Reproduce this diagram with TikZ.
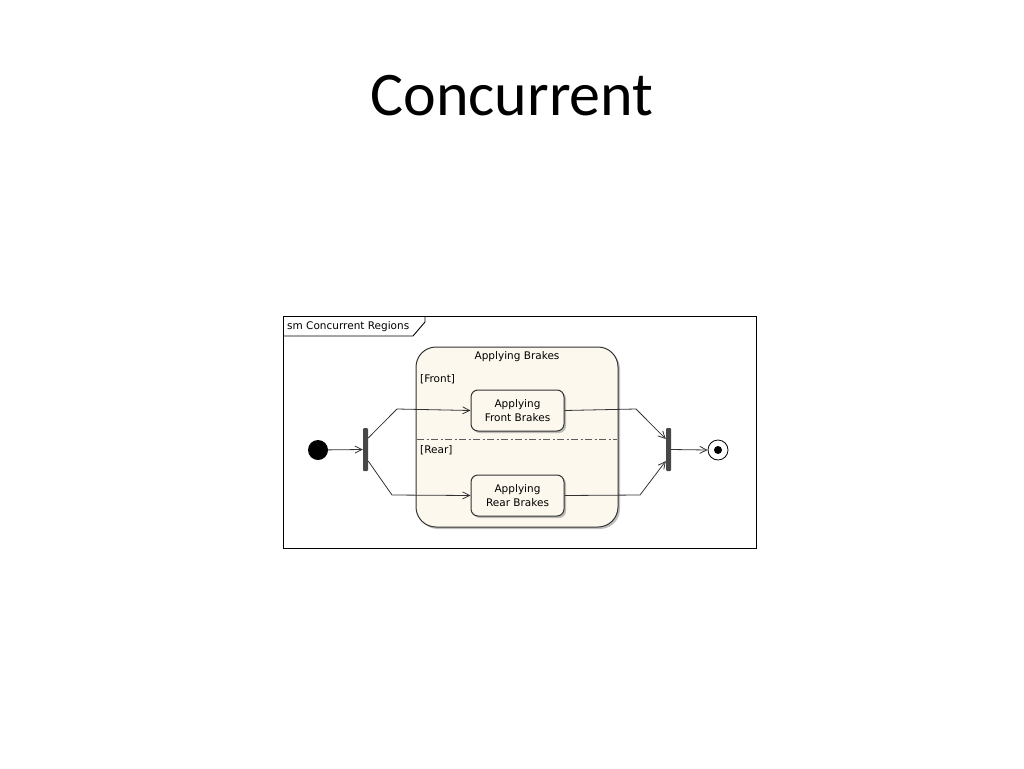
\documentclass[tikz,border=0pt]{standalone}
\usepackage{fontspec}
\setmainfont{Carlito}
\newfontfamily\umlfont{DejaVu Sans}
\usetikzlibrary{arrows.meta,shadows}
\definecolor{cream}{HTML}{FCF8EE}
\definecolor{lin}{HTML}{333333}
\begin{document}
\begin{tikzpicture}[x=1pt,y=-1pt,
  txt/.style={font=\umlfont\fontsize{10.5}{14}\selectfont, inner sep=0pt},
  state/.style={draw=lin, fill=cream, rounded corners=7pt, line width=1pt,
     drop shadow={shadow xshift=2pt, shadow yshift=-2pt, opacity=0.5, fill=gray}},
  bar/.style={fill=lin!90, rounded corners=1pt},
  conn/.style={draw=lin, line width=0.8pt, -{Straight Barb[length=7pt,width=7pt]}},
  plain/.style={draw=lin, line width=0.8pt}]
\useasboundingbox (0,0) rectangle (1024,768);
\node[font=\fontsize{62}{70}\selectfont, inner sep=0pt] (title) at (512,96) {Concurrent};
% frame
\draw[line width=1pt, draw=black] (283,316) rectangle (756,548);
\draw[line width=0.9pt] (283,336) -- (413,336) -- (425,322) -- (425,316);
\node[txt, anchor=west] (fname) at (287,326.5) {sm Concurrent Regions};
% composite
\path[state, rounded corners=20pt] (416,347) rectangle (618,527);
\coordinate (compos) at (517,437);
\node[txt] (cname) at (517,357) {Applying Brakes};
\draw[draw=lin!80, line width=1pt, dash pattern=on 7pt off 2.5pt on 2pt off 2.5pt] (417,439) -- (617,439);
\node[txt, anchor=west] (front) at (420,379) {[Front]};
\node[txt, anchor=west] (rear) at (420,450.5) {[Rear]};
% inner states
\node[state, minimum width=93pt, minimum height=41pt, txt, align=center] (fb) at (517.5,410.5) {Applying\\Front Brakes};
\node[state, minimum width=93pt, minimum height=41pt, txt, align=center] (rb) at (517.5,495.5) {Applying\\Rear Brakes};
% initial
\node[circle, fill=black, minimum size=20pt, inner sep=0pt] (init) at (318,450) {};
% fork and join
\node[bar, minimum width=5pt, minimum height=43pt, inner sep=0pt] (fork) at (365.5,449.5) {};
\node[bar, minimum width=5pt, minimum height=43pt, inner sep=0pt] (join) at (668.5,449.5) {};
% final
\node[circle, draw=black, fill=white, line width=0.8pt, minimum size=20pt, inner sep=0pt] (final) at (718,450) {};
\node[circle, fill=black, minimum size=8pt, inner sep=0pt] (finaldot) at (718,450) {};
% connectors
\draw[conn] (init) -- (fork.west);
\draw[conn] (fork.east |- 0,438) -- (397,409) -- (fb.west);
\draw[conn] (fork.east |- 0,461) -- (392,495) -- (rb.west);
\draw[conn] (fb.east) -- (636,409) -- (join.west |- 0,439);
\draw[conn] (rb.east) -- (640,495) -- (join.west |- 0,461);
\draw[conn] (join.east) -- (final.west);
\end{tikzpicture}
\end{document}
